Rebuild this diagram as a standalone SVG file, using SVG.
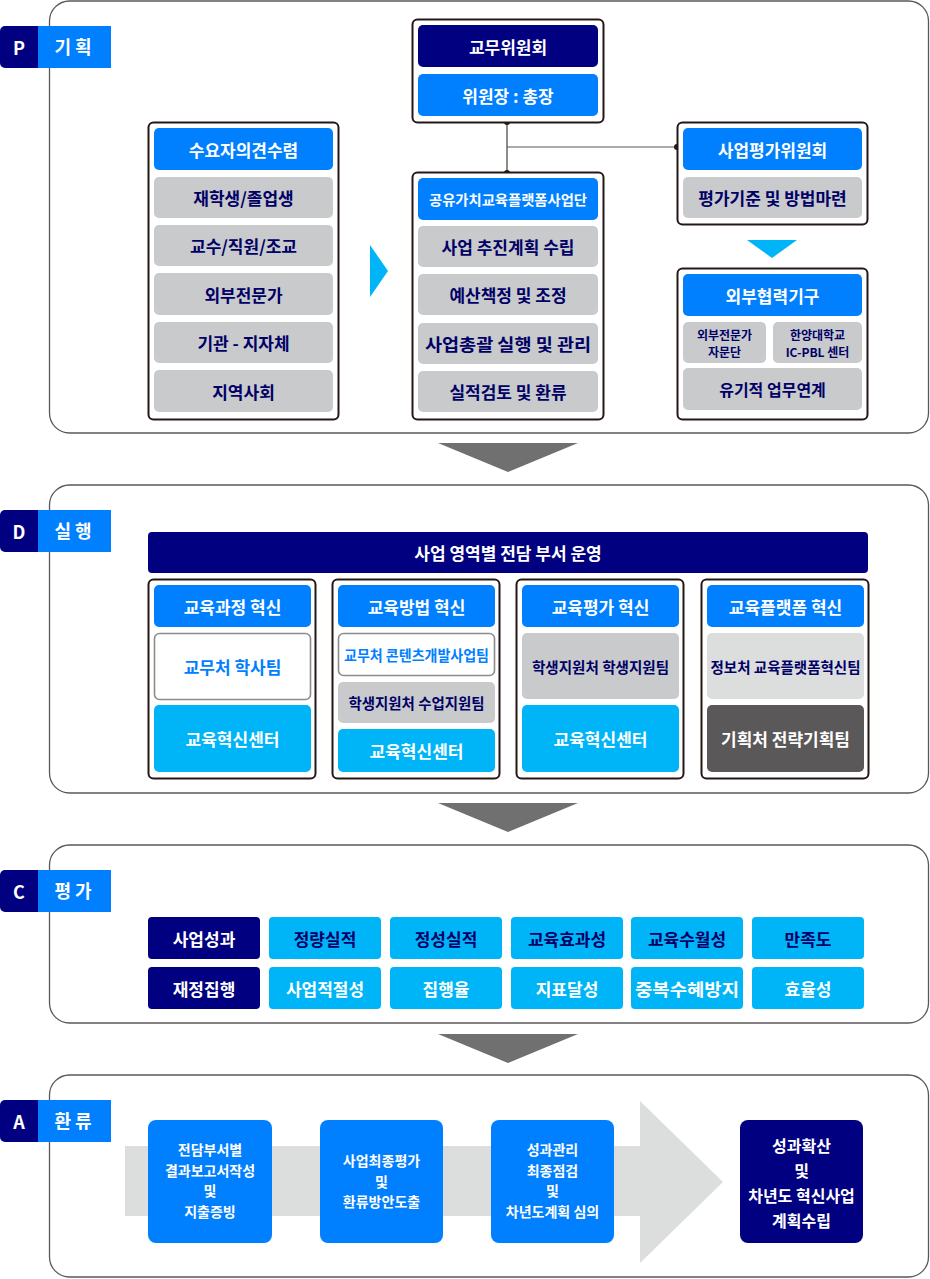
<svg xmlns="http://www.w3.org/2000/svg" width="930" height="1279" viewBox="0 0 930 1279">
<style>
text{font-family:"Noto Sans CJK KR","Noto Sans",sans-serif;font-weight:700;text-anchor:middle;dominant-baseline:central}
.sec{fill:#fff;stroke:#595757;stroke-width:1.3}
.col{fill:#fff;stroke:#231815;stroke-width:2}
.navy{fill:#000080}
.blue{fill:#0080ff}
.cyan{fill:#00b4f8}
.gray{fill:#c9cacb}
.lgray{fill:#dcdddd}
.dgray{fill:#5a5858}
.wbox{fill:#fff;stroke:#8c8c8c;stroke-width:1.6}
.tw{fill:#fff}
.tn{fill:#000066}
.tb{fill:#0080ff}
.f17{font-size:17px}
.f16{font-size:16px}
.f15{font-size:15px}
.f14{font-size:14px}
.f12{font-size:12px}
.lab{font-size:18px}
.arr{fill:#707070}
</style>

<!-- Section outlines -->
<g id="sections">
<rect class="sec" x="49.5" y="1" width="879" height="432" rx="20"/>
<rect class="sec" x="49.5" y="485" width="879" height="308" rx="20"/>
<rect class="sec" x="49.5" y="845" width="879" height="178" rx="20"/>
<rect class="sec" x="49.5" y="1075" width="879" height="202" rx="20"/>
</g>

<!-- Phase labels -->
<g id="label-P">
<rect class="navy" x="0" y="26" width="44" height="42" rx="5"/>
<rect class="blue" x="38" y="26" width="73" height="42"/>
<text class="tw lab" x="19" y="47">P</text>
<text class="tw lab" x="73" y="46">기 획</text>
</g>
<g id="label-D">
<rect class="navy" x="0" y="510" width="44" height="42" rx="5"/>
<rect class="blue" x="38" y="510" width="73" height="42"/>
<text class="tw lab" x="19" y="531">D</text>
<text class="tw lab" x="73" y="530">실 행</text>
</g>
<g id="label-C">
<rect class="navy" x="0" y="870" width="44" height="42" rx="5"/>
<rect class="blue" x="38" y="870" width="73" height="42"/>
<text class="tw lab" x="19" y="891">C</text>
<text class="tw lab" x="73" y="890">평 가</text>
</g>
<g id="label-A">
<rect class="navy" x="0" y="1100" width="44" height="42" rx="5"/>
<rect class="blue" x="38" y="1100" width="73" height="42"/>
<text class="tw lab" x="19" y="1121">A</text>
<text class="tw lab" x="73" y="1120">환 류</text>
</g>

<!-- Connectors -->
<g id="connectors">
<line x1="507" y1="122" x2="507" y2="173" stroke="#8c8c8c" stroke-width="2"/>
<line x1="507" y1="147" x2="677" y2="147" stroke="#595757" stroke-width="1"/>
<circle cx="507" cy="122" r="3" fill="#231815"/>
<circle cx="507" cy="173" r="3" fill="#231815"/>
<circle cx="677" cy="147" r="3" fill="#231815"/>
<polygon class="cyan" points="370,245 388,271 370,297"/>
<polygon class="cyan" points="747,240 797,240 772,258"/>
<polygon class="arr" points="438,443 578,443 508,472"/>
<polygon class="arr" points="438,803 578,803 508,832"/>
<polygon class="arr" points="438,1034 578,1034 508,1063"/>
</g>

<!-- P: demand -->
<g id="demand">
<rect class="col" x="148.5" y="122.5" width="190" height="297" rx="5"/>
<rect class="blue" x="154" y="128" width="179" height="42" rx="5"/>
<text class="tw f17" x="243.5" y="149">수요자의견수렴</text>
<rect class="gray" x="154" y="177" width="179" height="41" rx="5"/>
<text class="tn f17" x="243.5" y="197.5">재학생/졸업생</text>
<rect class="gray" x="154" y="225" width="179" height="41" rx="5"/>
<text class="tn f17" x="243.5" y="245.5">교수/직원/조교</text>
<rect class="gray" x="154" y="273" width="179" height="42" rx="5"/>
<text class="tn f17" x="243.5" y="294">외부전문가</text>
<rect class="gray" x="154" y="322" width="179" height="41" rx="5"/>
<text class="tn f17" x="243.5" y="342.5">기관 - 지자체</text>
<rect class="gray" x="154" y="370" width="179" height="42" rx="5"/>
<text class="tn f17" x="243.5" y="391">지역사회</text>
</g>

<g id="committee">
<rect class="col" x="412.5" y="19.5" width="191" height="103" rx="5"/>
<rect class="navy" x="418" y="25" width="180" height="42" rx="5"/>
<text class="tw f17" x="508" y="46">교무위원회</text>
<rect class="blue" x="418" y="74" width="180" height="42" rx="5"/>
<text class="tw f17" x="508" y="95">위원장 : 총장</text>
</g>

<g id="project-group">
<rect class="col" x="412.5" y="172.5" width="191" height="247" rx="5"/>
<rect class="blue" x="418" y="178" width="180" height="42" rx="5"/>
<text class="tw f14" x="508" y="199" textLength="158" lengthAdjust="spacingAndGlyphs">공유가치교육플랫폼사업단</text>
<rect class="gray" x="418" y="226" width="180" height="41" rx="5"/>
<text class="tn f17" x="508" y="246.5">사업 추진계획 수립</text>
<rect class="gray" x="418" y="274" width="180" height="41" rx="5"/>
<text class="tn f17" x="508" y="294.5">예산책정 및 조정</text>
<rect class="gray" x="418" y="323" width="180" height="41" rx="5"/>
<text class="tn f17" x="508" y="343.5" textLength="166" lengthAdjust="spacingAndGlyphs">사업총괄 실행 및 관리</text>
<rect class="gray" x="418" y="371" width="180" height="41" rx="5"/>
<text class="tn f17" x="508" y="391.5">실적검토 및 환류</text>
</g>

<g id="eval-committee">
<rect class="col" x="677.5" y="122.5" width="190" height="102" rx="5"/>
<rect class="blue" x="683" y="128" width="179" height="42" rx="5"/>
<text class="tw f17" x="772.5" y="149">사업평가위원회</text>
<rect class="gray" x="683" y="177" width="179" height="41" rx="5"/>
<text class="tn f17" x="772.5" y="197.5">평가기준 및 방법마련</text>
</g>

<g id="external">
<rect class="col" x="677.5" y="268.5" width="190" height="151" rx="5"/>
<rect class="blue" x="683" y="274" width="179" height="42" rx="5"/>
<text class="tw f17" x="772.5" y="295">외부협력기구</text>
<rect class="gray" x="683" y="322" width="83" height="41" rx="5"/>
<text class="tn f12" x="724.5" y="334">외부전문가</text>
<text class="tn f12" x="724.5" y="351">자문단</text>
<rect class="gray" x="773" y="322" width="89" height="41" rx="5"/>
<text class="tn f12" x="817.5" y="334">한양대학교</text>
<text class="tn f12" x="817.5" y="351">IC-PBL 센터</text>
<rect class="gray" x="683" y="368" width="179" height="42" rx="5"/>
<text class="tn f16" x="772.5" y="389">유기적 업무연계</text>
</g>

<!-- D -->
<g id="dept-bar">
<rect class="navy" x="148" y="532" width="720" height="41" rx="4"/>
<text class="tw f17" x="508" y="552.5">사업 영역별 전담 부서 운영</text>
</g>

<g id="d-col1">
<rect class="col" x="148.5" y="579.5" width="167" height="199" rx="5"/>
<rect class="blue" x="154" y="585" width="157" height="42" rx="5"/>
<text class="tw f17" x="232.5" y="606">교육과정 혁신</text>
<rect class="wbox" x="154.5" y="633.5" width="156" height="66" rx="5"/>
<text class="tb f17" x="232.5" y="666.5">교무처 학사팀</text>
<rect class="cyan" x="154" y="705" width="157" height="67" rx="5"/>
<text class="tw f17" x="232.5" y="738.5">교육혁신센터</text>
</g>

<g id="d-col2">
<rect class="col" x="332.5" y="579.5" width="167" height="199" rx="5"/>
<rect class="blue" x="338" y="585" width="157" height="42" rx="5"/>
<text class="tw f17" x="416.5" y="606">교육방법 혁신</text>
<rect class="wbox" x="338.5" y="633.5" width="156" height="42" rx="5"/>
<text class="tb f15" x="416.5" y="654.5" textLength="145" lengthAdjust="spacingAndGlyphs">교무처 콘텐츠개발사업팀</text>
<rect class="gray" x="338" y="682" width="157" height="41" rx="5"/>
<text class="tn f15" x="416.5" y="702.5" textLength="136" lengthAdjust="spacingAndGlyphs">학생지원처 수업지원팀</text>
<rect class="cyan" x="338" y="729" width="157" height="43" rx="5"/>
<text class="tw f17" x="416.5" y="750.5">교육혁신센터</text>
</g>

<g id="d-col3">
<rect class="col" x="516.5" y="579.5" width="167" height="199" rx="5"/>
<rect class="blue" x="522" y="585" width="157" height="42" rx="5"/>
<text class="tw f17" x="600.5" y="606">교육평가 혁신</text>
<rect class="gray" x="522" y="633" width="157" height="66" rx="5"/>
<text class="tn f15" x="600.5" y="666" textLength="137" lengthAdjust="spacingAndGlyphs">학생지원처 학생지원팀</text>
<rect class="cyan" x="522" y="705" width="157" height="67" rx="5"/>
<text class="tw f17" x="600.5" y="738.5">교육혁신센터</text>
</g>

<g id="d-col4">
<rect class="col" x="701.5" y="579.5" width="167" height="199" rx="5"/>
<rect class="blue" x="707" y="585" width="157" height="42" rx="5"/>
<text class="tw f17" x="785.5" y="606">교육플랫폼 혁신</text>
<rect class="lgray" x="707" y="633" width="157" height="66" rx="5"/>
<text class="tn f15" x="785.5" y="666" textLength="150" lengthAdjust="spacingAndGlyphs">정보처 교육플랫폼혁신팀</text>
<rect class="dgray" x="707" y="705" width="157" height="67" rx="5"/>
<text class="tw f17" x="785.5" y="738.5">기획처 전략기획팀</text>
</g>

<!-- C -->
<g id="c-grid">
<rect class="navy" x="148" y="917" width="112" height="42" rx="4"/>
<text class="tw f17" x="204" y="938">사업성과</text>
<rect class="cyan" x="269" y="917" width="112" height="42" rx="4"/>
<text class="tn f17" x="325" y="938">정량실적</text>
<rect class="cyan" x="390" y="917" width="112" height="42" rx="4"/>
<text class="tn f17" x="446" y="938">정성실적</text>
<rect class="cyan" x="511" y="917" width="112" height="42" rx="4"/>
<text class="tn f17" x="567" y="938">교육효과성</text>
<rect class="cyan" x="631" y="917" width="112" height="42" rx="4"/>
<text class="tn f17" x="687" y="938">교육수월성</text>
<rect class="cyan" x="752" y="917" width="112" height="42" rx="4"/>
<text class="tn f17" x="808" y="938">만족도</text>
<rect class="navy" x="148" y="967" width="112" height="42" rx="4"/>
<text class="tw f17" x="204" y="988">재정집행</text>
<rect class="cyan" x="269" y="967" width="112" height="42" rx="4"/>
<text class="tw f17" x="325" y="988">사업적절성</text>
<rect class="cyan" x="390" y="967" width="112" height="42" rx="4"/>
<text class="tw f17" x="446" y="988">집행율</text>
<rect class="cyan" x="511" y="967" width="112" height="42" rx="4"/>
<text class="tw f17" x="567" y="988">지표달성</text>
<rect class="cyan" x="631" y="967" width="112" height="42" rx="4"/>
<text class="tw f17" x="687" y="988" textLength="104" lengthAdjust="spacingAndGlyphs">중복수혜방지</text>
<rect class="cyan" x="752" y="967" width="112" height="42" rx="4"/>
<text class="tw f17" x="808" y="988">효율성</text>
</g>

<!-- A -->
<g id="a-flow-arrow">
<rect class="lgray" x="125" y="1146" width="516" height="70"/>
<polygon class="lgray" points="640,1101 723,1182 640,1263"/>
</g>
<g id="a-step1">
<rect class="blue" x="148" y="1120" width="124" height="123" rx="8"/>
<text class="tw f14" x="210" y="1149">전담부서별</text>
<text class="tw f14" x="210" y="1169.5">결과보고서작성</text>
<text class="tw f14" x="210" y="1190">및</text>
<text class="tw f14" x="210" y="1211">지출증빙</text>
</g>
<g id="a-step2">
<rect class="blue" x="320" y="1120" width="123" height="123" rx="8"/>
<text class="tw f14" x="381.5" y="1160">사업최종평가</text>
<text class="tw f14" x="381.5" y="1180.5">및</text>
<text class="tw f14" x="381.5" y="1201">환류방안도출</text>
</g>
<g id="a-step3">
<rect class="blue" x="491" y="1120" width="123" height="123" rx="8"/>
<text class="tw f14" x="552.5" y="1149">성과관리</text>
<text class="tw f14" x="552.5" y="1169.5">최종점검</text>
<text class="tw f14" x="552.5" y="1190">및</text>
<text class="tw f14" x="552.5" y="1211">차년도계획 심의</text>
</g>
<g id="a-step4">
<rect class="navy" x="740" y="1120" width="123" height="123" rx="8"/>
<text class="tw f16" x="801.5" y="1145">성과확산</text>
<text class="tw f16" x="801.5" y="1170">및</text>
<text class="tw f16" x="801.5" y="1195">차년도 혁신사업</text>
<text class="tw f16" x="801.5" y="1220">계획수립</text>
</g>
</svg>
